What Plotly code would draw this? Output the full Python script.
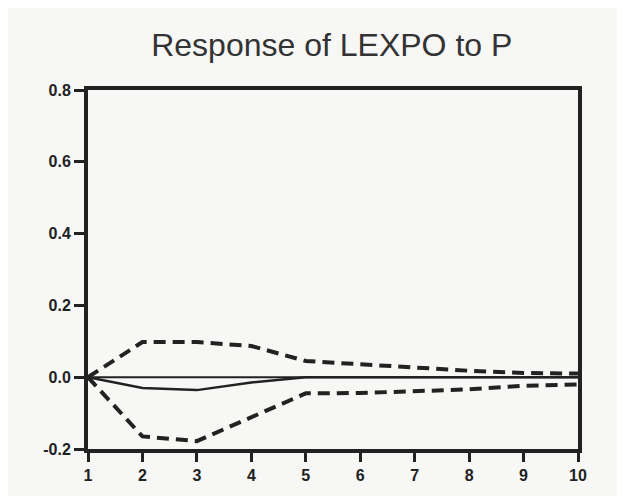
import plotly.graph_objects as go

periods = [1, 2, 3, 4, 5, 6, 7, 8, 9, 10]
response = [0.0, -0.030, -0.036, -0.015, 0.0, 0.0, 0.0, 0.0, 0.0, 0.0]
upper = [0.0, 0.098, 0.098, 0.087, 0.045, 0.036, 0.027, 0.018, 0.012, 0.010]
lower = [0.0, -0.165, -0.178, -0.110, -0.045, -0.044, -0.040, -0.034, -0.024, -0.020]
y_ticks = [-0.2, 0.0, 0.2, 0.4, 0.6, 0.8]
y_labels = ["-0.2", "0.0", "0.2", "0.4", "0.6", "0.8"]

ink = "#222222"
tick_font = dict(family="Liberation Sans, Arial", size=16, color=ink, weight="bold")

fig = go.Figure()
fig.add_trace(go.Scatter(x=periods, y=[0] * len(periods), mode="lines",
                         line=dict(color=ink, width=2), hoverinfo="skip"))
fig.add_trace(go.Scatter(x=periods, y=upper, mode="lines",
                         line=dict(color=ink, width=4, dash="12px,7px")))
fig.add_trace(go.Scatter(x=periods, y=lower, mode="lines",
                         line=dict(color=ink, width=4, dash="12px,7px")))
fig.add_trace(go.Scatter(x=periods, y=response, mode="lines",
                         line=dict(color=ink, width=2.5)))

fig.update_layout(
    width=625, height=496,
    margin=dict(l=80, r=55, t=82, b=55),
    paper_bgcolor="#f7f7f5", plot_bgcolor="#f7f7f5",
    showlegend=False,
    title=dict(text="Response of LEXPO to P", x=0.518, xanchor="center",
               y=0.925, yanchor="middle",
               font=dict(family="Liberation Sans, Arial", size=32, color="#333333")),
)
fig.update_xaxes(range=[1, 10], tickvals=periods, ticks="outside", ticklen=9,
                 tickwidth=3, tickcolor=ink, showgrid=False, zeroline=False,
                 showline=True, linecolor=ink, linewidth=4, mirror=True,
                 tickfont=tick_font)
fig.update_yaxes(range=[-0.2, 0.8], tickvals=y_ticks, ticktext=y_labels,
                 ticks="outside", ticklen=10, tickwidth=3, tickcolor=ink,
                 showgrid=False, zeroline=False, showline=True, linecolor=ink,
                 linewidth=4, mirror=True,
                 tickfont=tick_font)

fig.write_html("out.html")
